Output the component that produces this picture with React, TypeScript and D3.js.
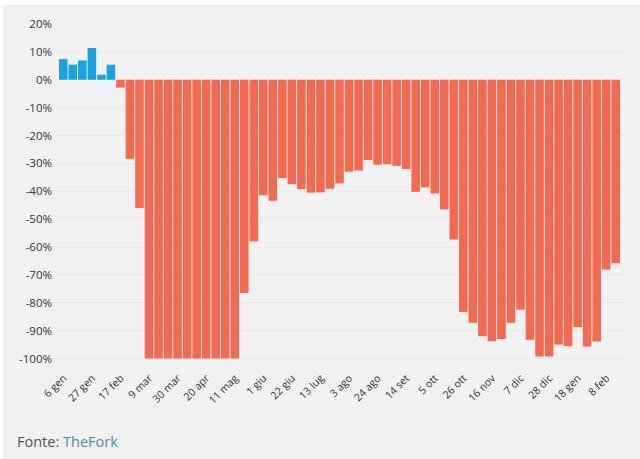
import React from "react";
import * as d3 from "d3";

const weeks: string[] = [
  "6 gen", "13 gen", "20 gen", "27 gen", "3 feb", "10 feb", "17 feb", "24 feb", "2 mar", "9 mar",
  "16 mar", "23 mar", "30 mar", "6 apr", "13 apr", "20 apr", "27 apr", "4 mag", "11 mag", "18 mag",
  "25 mag", "1 giu", "8 giu", "15 giu", "22 giu", "29 giu", "6 lug", "13 lug", "20 lug", "27 lug",
  "3 ago", "10 ago", "17 ago", "24 ago", "31 ago", "7 set", "14 set", "21 set", "28 set", "5 ott",
  "12 ott", "19 ott", "26 ott", "2 nov", "9 nov", "16 nov", "23 nov", "30 nov", "7 dic", "14 dic",
  "21 dic", "28 dic", "4 gen", "11 gen", "18 gen", "25 gen", "1 feb", "8 feb", "15 feb",
];

const values: number[] = [
  7.4, 5.4, 6.9, 11.4, 1.8, 5.4, -2.8, -28.4, -46,
  -100, -100, -100, -100, -100, -100, -100, -100, -100, -100,
  -76.5, -58, -41.4, -43.4, -35.3, -37.5, -39.2, -40.5, -40.4, -39.1,
  -37.2, -33, -32.6, -28.8, -30.5, -30.3, -30.9, -32, -40.2,
  -38.6, -40.8, -46.5, -57.3, -83.3, -87.2, -92, -93.8, -93, -87.2,
  -82.5, -93.3, -99.3, -99.3, -95, -95.6, -88.7, -95.7, -93.9, -68.1, -65.8,
];

const tickLabels: string[] = [
  "6 gen", "27 gen", "17 feb", "9 mar", "30 mar", "20 apr", "11 mag", "1 giu", "22 giu", "13 lug",
  "3 ago", "24 ago", "14 set", "5 ott", "26 ott", "16 nov", "7 dic", "28 dic", "18 gen", "8 feb",
];

const yTicks: number[] = [20, 10, 0, -10, -20, -30, -40, -50, -60, -70, -80, -90, -100];

const W = 640;
const H = 459;

export default function App() {
  const x = d3.scaleBand<string>().domain(weeks).range([59, 620]).paddingInner(0.1).paddingOuter(0);
  const y = d3.scaleLinear().domain([-100, 20]).range([358.5, 24]);
  const font = "'Open Sans', 'DejaVu Sans', sans-serif";

  return (
    <svg
      width={W}
      height={H}
      style={{ position: "absolute", left: 0, top: 0, display: "block" }}
      fontFamily={font}
    >
      <rect x={0} y={0} width={W} height={H} fill="#ffffff" />
      <rect x={3} y={5} width={W - 3} height={H - 5} fill="#f1f1f1" />
      {yTicks.map((t) => (
        <g key={t}>
          <line x1={56} x2={624} y1={y(t)} y2={y(t)} stroke="#e9e9e9" strokeWidth={1} />
          <text x={52} y={y(t)} dy="0.35em" textAnchor="end" fontSize={11.5} fill="#333333">
            {`${t}%`}
          </text>
        </g>
      ))}
      {weeks.map((w, i) => {
        const v = values[i];
        const y0 = y(0);
        const yv = y(v);
        return (
          <rect
            key={w + i}
            x={x(w)}
            width={x.bandwidth()}
            y={Math.min(y0, yv)}
            height={Math.abs(yv - y0)}
            fill={v >= 0 ? "#1aa2e0" : "#f36a52"}
          />
        );
      })}
      {tickLabels.map((lab) => {
        const cx = (x(lab) ?? 0) + x.bandwidth() / 2 + 4;
        const cy = 379;
        return (
          <text
            key={lab}
            x={cx}
            y={cy}
            textAnchor="end"
            fontSize={10.5}
            fill="#333333"
            transform={`rotate(-45 ${cx} ${cy})`}
          >
            {lab}
          </text>
        );
      })}
      <text x={17} y={447} fontSize={14.5} fill="#505050">
        Fonte: <tspan fill="#4a8ea3">TheFork</tspan>
      </text>
    </svg>
  );
}
